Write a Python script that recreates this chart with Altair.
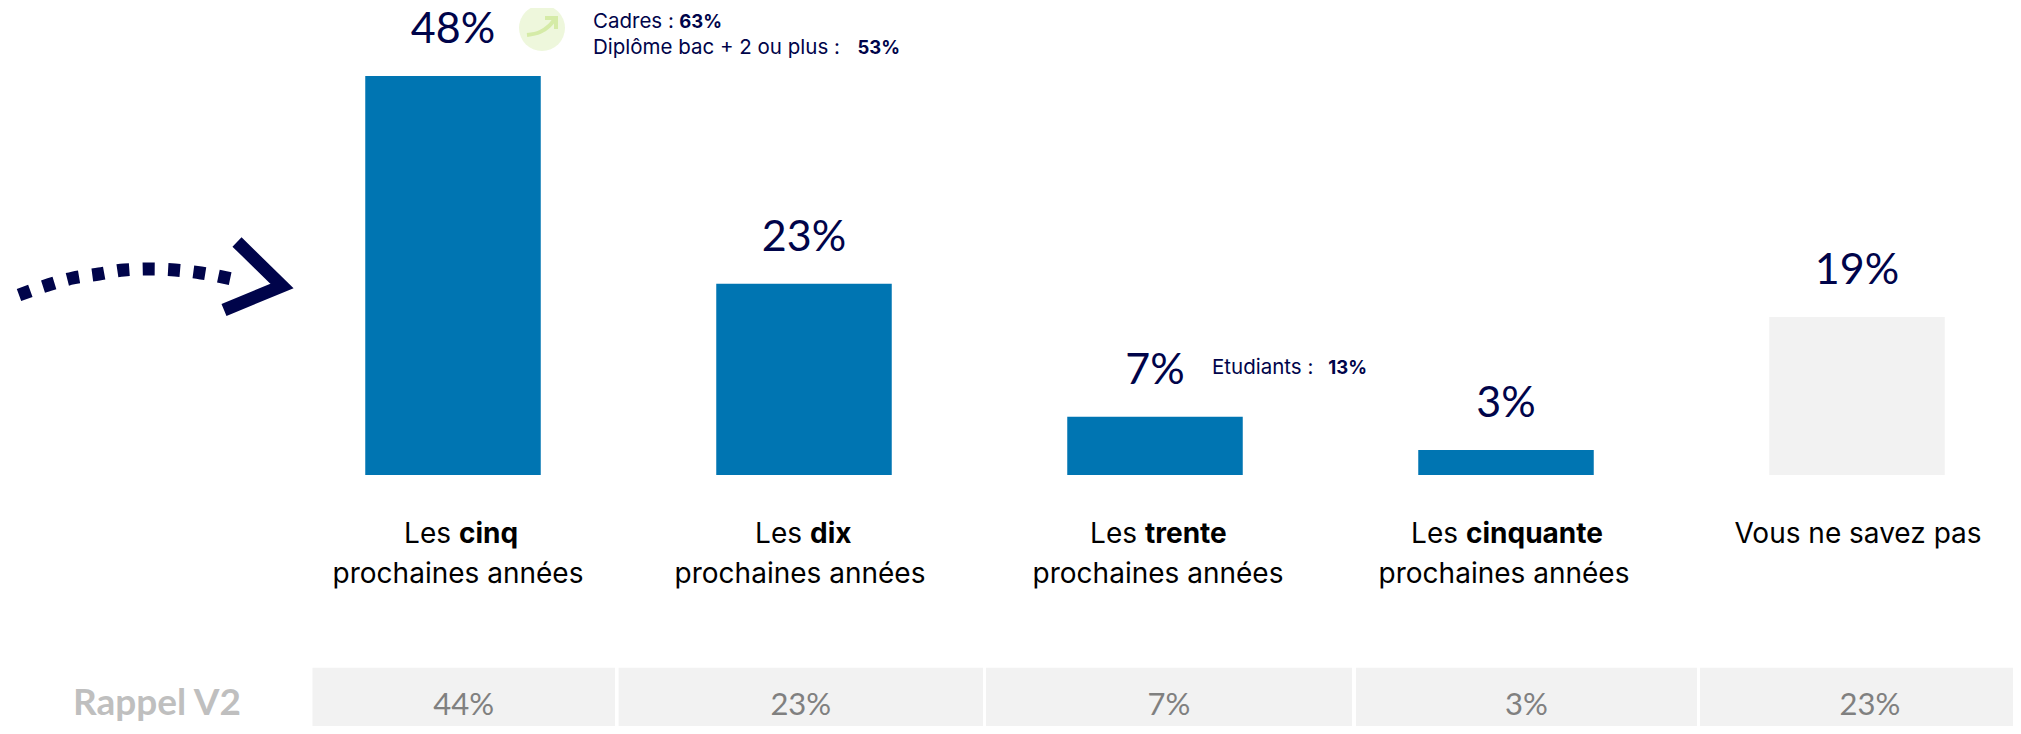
import altair as alt
import pandas as pd

W, H = 2005, 718
NAVY = "#00044a"
BLUE = "#0075b2"
PALE = "#f2f2f2"
BODY = "Inter"
HAND = "Lato"

categories = ["cinq", "dix", "trente", "cinquante", "nsp"]
values = [48, 23, 7, 3, 19]
bar_colors = [BLUE, BLUE, BLUE, BLUE, PALE]
recall = ["44%", "23%", "7%", "3%", "23%"]

head_bold = ["cinq", "dix", "trente", "cinquante"]
head_split = [451, 802, 1137, 1458]
sub_center = [450, 792, 1150, 1496]

cell_left = [304.5, 610.6, 978, 1348, 1692]
cell_right = [607, 975, 1344, 1689, 2032]
cell_top = 659.7
cell_bottom = 718

arrow_x = [11, 40, 65, 91, 116, 142, 167, 193, 224]
arrow_y = [287, 277, 270, 266, 262, 261, 262, 265, 271]
chev_x = [229, 274, 216]
chev_y = [234, 278, 302]
icon_x = [519, 532, 541, 547]
icon_y = [27, 24, 18, 11]
icon_head_x = [537, 548, 548]
icon_head_y = [10, 10, 21]

notes = [
    (585, 19.5, 714, "Cadres : ", "63%"),
    (585, 46, 892, "Diplôme bac + 2 ou plus : ", "53%"),
    (1204, 366, 1359, "Etudiants : ", "13%"),
]

px = alt.Scale(domain=[0, 2013], range=[0, 2013])
py = alt.Scale(domain=[0, 726], range=[0, 726])
xb = alt.Scale(domain=categories, range=[269.5, 2024.5], paddingInner=0.5, paddingOuter=0.25)
yb = alt.Scale(domain=[0, 48], range=[467, 68])

df = pd.DataFrame({"cat": categories, "v": values, "lab": [f"{v}%" for v in values], "c": bar_colors})
X = alt.X("cat:N", scale=xb, axis=None, sort=categories)
Y = alt.Y("v:Q", scale=yb, axis=None)

bars = alt.Chart(df).mark_bar().encode(
    x=X, y=Y, y2=alt.datum(0),
    color=alt.Color("c:N", scale=None),
)
value_labels = alt.Chart(df).mark_text(
    font=HAND, fontSize=43, color=NAVY, baseline="alphabetic", dy=-33
).encode(x=X, y=Y, text="lab:N")

layers = [bars, value_labels]


def px_text(x, y, text, **kw):
    d = pd.DataFrame({"x": [x], "y": [y], "t": [text]})
    return alt.Chart(d).mark_text(baseline="alphabetic", **kw).encode(
        x=alt.X("x:Q", scale=px, axis=None),
        y=alt.Y("y:Q", scale=py, axis=None),
        text="t:N",
    )


for bold, split, sc in zip(head_bold, head_split, sub_center):
    layers.append(px_text(split, 535, "Les", font=BODY, fontSize=28, color="#000000", align="right", dx=-8))
    layers.append(px_text(split, 535, bold, font=BODY, fontSize=28, fontWeight="bold", color="#000000", align="left"))
    layers.append(px_text(sc, 575, "prochaines années", font=BODY, fontSize=28, color="#000000", align="center"))
layers.append(px_text(1850, 535, "Vous ne savez pas", font=BODY, fontSize=28, color="#000000", align="center"))

# recall table
cells = pd.DataFrame({"l": cell_left, "r": cell_right, "t": cell_top, "b": cell_bottom, "lab": recall})
cells["m"] = (cells.l + cells.r) / 2
layers.append(alt.Chart(cells).mark_rect(color=PALE).encode(
    x=alt.X("l:Q", scale=px, axis=None), x2="r:Q",
    y=alt.Y("t:Q", scale=py, axis=None), y2="b:Q",
))
layers.append(alt.Chart(cells).mark_text(font=HAND, fontSize=31, color="#808080", baseline="alphabetic").encode(
    x=alt.X("m:Q", scale=px, axis=None),
    y=alt.Y("yy:Q", scale=py, axis=None),
    text="lab:N",
).transform_calculate(yy="707"))
layers.append(px_text(65, 707, "Rappel V2", font=HAND, fontSize=37, fontWeight="bold", color="#bfbfbf", align="left"))

# annotations
for x, y, xe, reg, bold in notes:
    layers.append(px_text(x, y, reg, font=BODY, fontSize=20.5, color=NAVY, align="left"))
    layers.append(px_text(xe, y, bold, font=BODY, fontSize=18.5, fontWeight="bold", color=NAVY, align="right"))


def path(xs, ys, **kw):
    d = pd.DataFrame({"x": xs, "y": ys, "o": range(len(xs))})
    return alt.Chart(d).mark_line(**kw).encode(
        x=alt.X("x:Q", scale=px, axis=None),
        y=alt.Y("y:Q", scale=py, axis=None),
        order="o:Q",
    )


layers.append(path(arrow_x, arrow_y, color=NAVY, strokeWidth=13, strokeDash=[12, 13.4], interpolate="monotone"))
layers.append(path(chev_x, chev_y, color=NAVY, strokeWidth=13, strokeJoin="miter", strokeCap="butt", strokeMiterLimit=10))

# icon
icon = pd.DataFrame({"x": [534], "y": [20]})
layers.append(alt.Chart(icon).mark_point(filled=True, shape="circle", size=2116, color="#eef7dc", opacity=1).encode(
    x=alt.X("x:Q", scale=px, axis=None), y=alt.Y("y:Q", scale=py, axis=None)))
layers.append(path(icon_x, icon_y, color="#d5eba7", strokeWidth=4, interpolate="monotone"))
layers.append(path(icon_head_x, icon_head_y, color="#d5eba7", strokeWidth=4))

chart = alt.layer(*layers).resolve_scale(x="independent", y="independent").properties(
    width=W, height=H, padding=0, autosize=alt.AutoSizeParams(type="none"), background="white"
).configure_view(stroke=None)

chart.save("out.html", embed_options={"renderer": "svg", "actions": False})
